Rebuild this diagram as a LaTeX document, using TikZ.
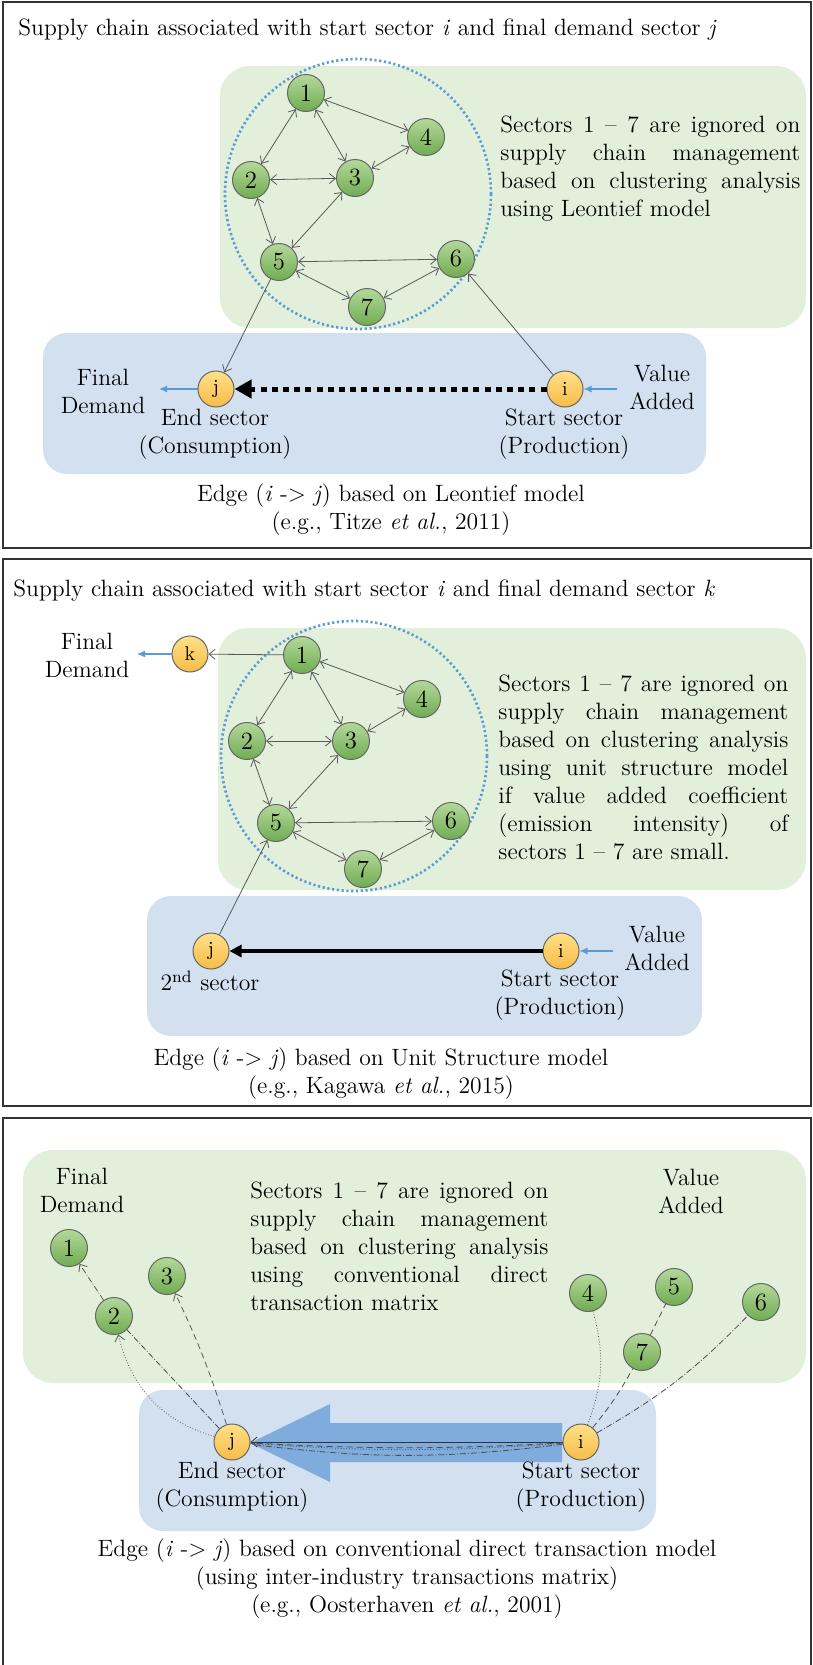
\documentclass[tikz,border=0pt]{standalone}
\usepackage{fontspec}
\usetikzlibrary{arrows.meta}

\definecolor{panelgreen}{RGB}{226,239,218}
\definecolor{panelblue}{RGB}{210,224,240}
\definecolor{linkblue}{RGB}{91,155,213}
\definecolor{arrowblue}{RGB}{127,171,221}
\definecolor{nodegreenA}{RGB}{180,216,154}
\definecolor{nodegreenB}{RGB}{112,172,82}
\definecolor{nodeyellowA}{RGB}{255,224,135}
\definecolor{nodeyellowB}{RGB}{247,188,72}

\begin{document}
\begin{tikzpicture}[x=0.5pt,y=-0.5pt,font=\fontsize{11.8}{14}\selectfont,
  sec/.style={circle,draw=black!60,line width=0.5pt,top color=nodegreenA,bottom color=nodegreenB,
    minimum size=18.5pt,inner sep=0pt,font=\fontsize{12.4}{12}\selectfont},
  ends/.style={circle,draw=black!60,line width=0.5pt,top color=nodeyellowA,bottom color=nodeyellowB,
    minimum size=18pt,inner sep=0pt,font=\fontsize{10}{10}\selectfont},
  link/.style={black!65,line width=0.4pt,{Straight Barb[length=3pt,width=5pt]}-{Straight Barb[length=3pt,width=5pt]}},
  single/.style={black!65,line width=0.4pt,-{Straight Barb[length=3pt,width=5pt]}},
  feed/.style={linkblue,line width=0.6pt,-{Latex[length=4pt,width=3.5pt]}},
  lbl/.style={align=center,inner sep=0pt},
  note/.style={align=justify,inner sep=0pt,anchor=west},
  panel/.style={draw=black!80,line width=0.8pt},
  cluster/.style={linkblue,line width=1.3pt,dash pattern=on 1.1pt off 1.3pt}]
  \useasboundingbox (0,0) rectangle (813,1665);

  \begin{scope}
    \draw[panel] (3,2) rectangle (811,548);
    \fill[panelgreen,rounded corners=15pt] (220,66) rectangle (806,328);
    \fill[panelblue,rounded corners=12pt] (43,333) rectangle (706,474);
    \draw[cluster] (358,194) ellipse [x radius=133,y radius=135];
    \node[inner sep=0pt,anchor=west] (a-title) at (18,30)
      {Supply chain associated with start sector \textit{i} and final demand sector \textit{j}};
    \node[sec] (a1) at (306,93) {1};
    \node[sec] (a2) at (251,180) {2};
    \node[sec] (a3) at (355,178) {3};
    \node[sec] (a4) at (426,137) {4};
    \node[sec] (a5) at (279,262) {5};
    \node[sec] (a6) at (456,259) {6};
    \node[sec] (a7) at (367,307) {7};
    \path (a1) edge[link] (a4) edge[link] (a2) edge[link] (a3)
      (a2) edge[link] (a3) edge[link] (a5)
      (a3) edge[link] (a4) edge[link] (a5)
      (a5) edge[link] (a6) edge[link] (a7)
      (a7) edge[link] (a6);
    \node[ends] (aj) at (216,389) {j};
    \node[ends] (ai) at (565,389) {i};
    \draw[single] (a5) -- (aj);
    \draw[single] (ai) -- (a6);
    \draw[line width=2.5pt,dash pattern=on 3pt off 2.6pt,-{Triangle[length=8.5pt,width=9pt]}] (ai) -- (aj);
    \coordinate (a-fd) at (159,389);
    \coordinate (a-va) at (617,389);
    \draw[feed] (aj) -- (a-fd);
    \draw[feed] (a-va) -- (ai);
    \node[lbl] (a-final) at (103,391) {Final\\Demand};
    \node[lbl] (a-value) at (662,387) {Value\\Added};
    \node[lbl] (a-end) at (215,434) {End sector\\(Consumption)};
    \node[lbl] (a-start) at (564,434) {Start sector\\(Production)};
    \node[note,text width=150pt] (a-note) at (500,169)
      {Sectors 1 -- 7 are ignored on\linebreak supply chain management\linebreak
       based on clustering analysis\linebreak using Leontief model};
    \node[lbl] (a-cap) at (391,510)
      {Edge (\textit{i} -> \textit{j}) based on Leontief model\\(e.g., Titze \textit{et al.}, 2011)};
  \end{scope}

  \begin{scope}
    \draw[panel] (3,559) rectangle (811,1106);
    \fill[panelgreen,rounded corners=15pt] (218,628) rectangle (806,890);
    \fill[panelblue,rounded corners=12pt] (147,896) rectangle (702,1036);
    \draw[cluster] (354,756) ellipse [x radius=133,y radius=135];
    \node[inner sep=0pt,anchor=west] (b-title) at (13,591)
      {Supply chain associated with start sector \textit{i} and final demand sector \textit{k}};
    \node[sec] (b1) at (302,655) {1};
    \node[sec] (b2) at (247,741) {2};
    \node[sec] (b3) at (351,741) {3};
    \node[sec] (b4) at (422,699) {4};
    \node[sec] (b5) at (276,823) {5};
    \node[sec] (b6) at (451,821) {6};
    \node[sec] (b7) at (363,869) {7};
    \path (b1) edge[link] (b4) edge[link] (b2) edge[link] (b3)
      (b2) edge[link] (b3) edge[link] (b5)
      (b3) edge[link] (b4) edge[link] (b5)
      (b5) edge[link] (b6) edge[link] (b7)
      (b7) edge[link] (b6);
    \node[ends] (bk) at (190,654) {k};
    \node[ends] (bj) at (211,951) {j};
    \node[ends] (bi) at (561,951) {i};
    \draw[single] (b1) -- (bk);
    \draw[single] (bj) -- (b5);
    \draw[line width=1.6pt,-{Triangle[length=6pt,width=6pt]}] (bi) -- (bj);
    \coordinate (b-fd) at (137,654);
    \coordinate (b-va) at (613,951);
    \draw[feed] (bk) -- (b-fd);
    \draw[feed] (b-va) -- (bi);
    \node[lbl] (b-final) at (87,655) {Final\\Demand};
    \node[lbl] (b-value) at (657,948) {Value\\Added};
    \node[lbl] (b-second) at (210,981) {2\textsuperscript{nd} sector};
    \node[lbl] (b-start) at (560,995) {Start sector\\(Production)};
    \node[note,text width=145pt] (b-note) at (498,767)
      {Sectors 1 -- 7 are ignored on\linebreak supply chain management\linebreak
       based on clustering analysis\linebreak using unit structure model\linebreak
       if value added coefficient\linebreak (emission intensity) of\linebreak
       sectors 1 -- 7 are small.};
    \node[lbl] (b-cap) at (381,1074)
      {Edge (\textit{i} -> \textit{j}) based on Unit Structure model\\(e.g., Kagawa \textit{et al.}, 2015)};
  \end{scope}

  \begin{scope}
    \draw[panel] (3,1118) rectangle (811,1672);
    \fill[panelgreen,rounded corners=15pt] (23,1150) rectangle (806,1383);
    \fill[panelblue,rounded corners=12pt] (139,1390) rectangle (656,1531);
    \fill[arrowblue] (250,1443) -- (330,1404) -- (330,1423) -- (562,1423)
      -- (562,1462) -- (330,1462) -- (330,1482) -- cycle;
    \node[sec] (c1) at (69,1248) {1};
    \node[sec] (c2) at (114,1316) {2};
    \node[sec] (c3) at (167,1276) {3};
    \node[sec] (c4) at (588,1293) {4};
    \node[sec] (c5) at (674,1287) {5};
    \node[sec] (c6) at (761,1302) {6};
    \node[sec] (c7) at (642,1352) {7};
    \node[ends] (cj) at (232,1442) {j};
    \node[ends] (ci) at (581,1442) {i};
    \draw[single,black!80] (ci) -- (cj);
    \draw[black!70,line width=0.4pt,densely dotted] (ci) to[bend left=4] (cj);
    \draw[black!70,line width=0.4pt,densely dashed] (ci) to[bend left=3] (cj);
    \draw[black!70,line width=0.4pt,densely dash dot] (ci) to[bend left=7] (cj);
    \draw[single,densely dotted] (cj) to[bend left=30] (c2);
    \draw[black!70,line width=0.4pt,densely dash dot] (cj) -- (c2);
    \draw[single,densely dash dot] (c2) -- (c1);
    \draw[single,densely dashed] (cj) to[bend right=4] (c3);
    \draw[black!70,line width=0.4pt,densely dotted] (ci) to[bend right=18] (c4);
    \draw[black!70,line width=0.4pt,densely dashed] (ci) to[bend right=5] (c7);
    \draw[black!70,line width=0.4pt,densely dashed] (c7) -- (c5);
    \draw[black!70,line width=0.4pt,densely dash dot] (ci) to[bend right=8] (c6);
    \node[lbl] (c-final) at (82,1190) {Final\\Demand};
    \node[lbl] (c-value) at (691,1191) {Value\\Added};
    \node[lbl] (c-end) at (232,1487) {End sector\\(Consumption)};
    \node[lbl] (c-start) at (581,1487) {Start sector\\(Production)};
    \node[note,text width=149pt] (c-note) at (250,1246)
      {Sectors 1 -- 7 are ignored on\linebreak supply chain management\linebreak
       based on clustering analysis\linebreak using conventional direct\linebreak
       transaction matrix};
    \node[lbl] (c-cap) at (407,1579)
      {Edge (\textit{i} -> \textit{j}) based on conventional direct transaction model\\
       (using inter-industry transactions matrix)\\(e.g., Oosterhaven \textit{et al.}, 2001)};
  \end{scope}
\end{tikzpicture}
\end{document}
